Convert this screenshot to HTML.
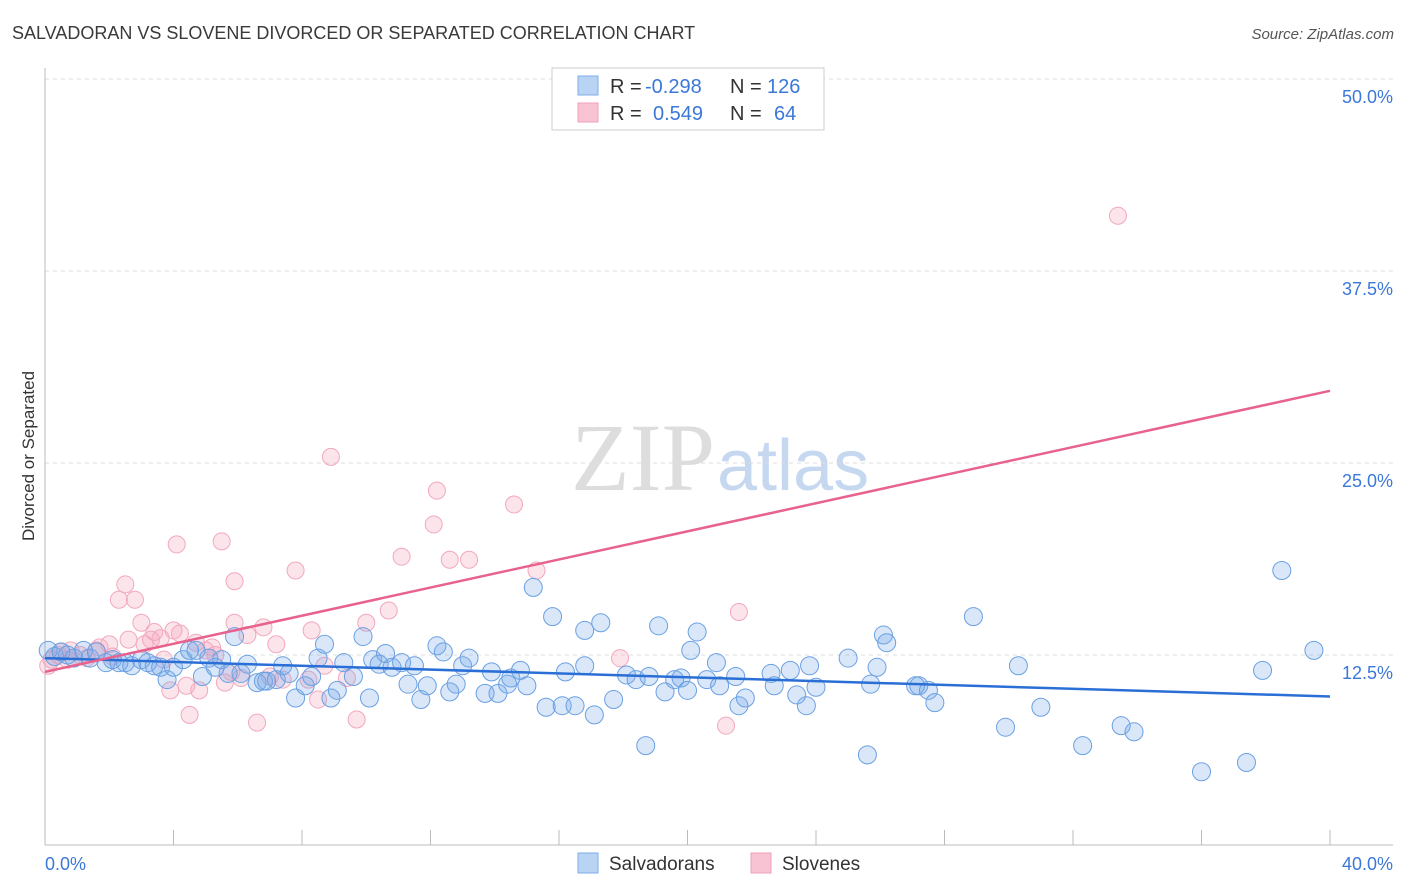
<!DOCTYPE html>
<html><head><meta charset="utf-8"><style>
body{margin:0;background:#fff;font-family:"Liberation Sans",sans-serif;}
#c{position:relative;width:1406px;height:892px;overflow:hidden}
</style></head><body>
<div id="c">
<svg id="svg" width="1406" height="892" xmlns="http://www.w3.org/2000/svg">
<text x="12" y="39" font-size="18" fill="#3a3a3a">SALVADORAN VS SLOVENE DIVORCED OR SEPARATED CORRELATION CHART</text>
<text x="1394" y="39" font-size="15" fill="#555" font-style="italic" text-anchor="end">Source: ZipAtlas.com</text>
<text x="34" y="456" font-size="17" fill="#333" text-anchor="middle" transform="rotate(-90 34 456)">Divorced or Separated</text>
<text x="715" y="490" font-size="96" fill="#ddd" text-anchor="end" font-family="Liberation Serif,serif">ZIP</text>
<text x="717" y="490" font-size="72" fill="#c5d8f0">atlas</text>
<g id="grid"></g><g id="pts"></g><g id="lines"></g>
<g>
<rect x="552" y="68" width="272" height="62" fill="#fff" stroke="#ccc"/>
<rect x="578" y="76" width="20" height="19" fill="#b8d3f3" stroke="#7eaee8"/>
<rect x="578" y="103" width="20" height="19" fill="#f8c4d4" stroke="#f0a0b8"/>
<text y="93" font-size="20" fill="#333"><tspan x="610">R =</tspan><tspan x="645" fill="#3b78d8">-0.298</tspan><tspan x="730">N =</tspan><tspan x="767" fill="#3b78d8">126</tspan></text>
<text y="120" font-size="20" fill="#333"><tspan x="610">R =</tspan><tspan x="653" fill="#3b78d8">0.549</tspan><tspan x="730">N =</tspan><tspan x="774" fill="#3b78d8">64</tspan></text>
</g>
<g>
<rect x="578" y="853" width="20" height="20" fill="#b8d3f3" stroke="#7eaee8"/>
<text x="609" y="870" font-size="19" fill="#333">Salvadorans</text>
<rect x="751" y="853" width="20" height="20" fill="#f8c4d4" stroke="#f0a0b8"/>
<text x="782" y="870" font-size="19" fill="#333">Slovenes</text>
</g>
</svg>
</div>
<script>
const xTicks=[0,4,8,12,16,20,24,28,32,36,40];
const yTicks=[12.5,25,37.5,50];
const yTickLabels=["12.5%","25.0%","37.5%","50.0%"];
const blueX=[0.1,0.3,0.5,0.7,0.9,1.2,1.4,1.6,1.9,2.1,2.3,2.5,2.7,3.0,3.2,3.4,3.6,3.8,4.0,4.3,4.5,4.7,4.9,5.1,5.3,5.5,5.7,5.9,6.1,6.3,6.6,6.8,6.9,7.2,7.4,7.6,7.8,8.1,8.3,8.5,8.7,8.9,9.1,9.3,9.6,9.9,10.1,10.2,10.4,10.6,10.8,11.1,11.3,11.5,11.7,11.9,12.2,12.4,12.6,12.8,13.0,13.2,13.7,13.9,14.1,14.4,14.5,14.8,15.0,15.2,15.6,15.8,16.1,16.2,16.5,16.8,16.8,17.1,17.3,17.7,18.1,18.4,18.7,18.8,19.1,19.3,19.6,19.8,20.0,20.1,20.3,20.6,20.9,21.0,21.5,21.6,21.8,22.6,22.7,23.2,23.4,23.7,23.8,24.0,25.0,25.6,25.7,25.9,26.1,26.2,27.1,27.2,27.5,27.7,28.9,29.9,30.3,31.0,32.3,33.5,33.9,36.0,37.4,37.9,38.5,39.5];
const blueY=[12.8,12.4,12.7,12.5,12.3,12.8,12.3,12.7,12.0,12.2,12.0,12.0,11.8,12.2,12.0,11.8,11.7,10.9,11.7,12.2,12.8,12.8,11.1,12.3,11.7,12.2,11.3,13.7,11.3,11.9,10.7,10.8,10.8,10.9,11.8,11.3,9.7,10.5,11.1,12.3,13.2,9.7,10.2,12.0,11.1,13.7,9.7,12.2,11.9,12.6,11.7,12.0,10.6,11.8,9.6,10.5,13.1,12.7,10.1,10.6,11.8,12.3,10.0,11.4,10.0,10.6,11.0,11.5,10.5,16.9,9.1,15.0,9.2,11.4,9.2,14.1,11.8,8.6,14.6,9.6,11.2,10.9,6.6,11.1,14.4,10.1,10.9,11.0,10.2,12.8,14.0,10.9,12.0,10.5,11.1,9.2,9.7,11.3,10.5,11.5,9.9,9.2,11.8,10.4,12.3,6.0,10.6,11.7,13.8,13.3,10.5,10.5,10.2,9.4,15.0,7.8,11.8,9.1,6.6,7.9,7.5,4.9,5.5,11.5,18.0,12.8];
const pinkX=[0.1,0.2,0.4,0.5,0.7,0.8,1.1,1.3,1.6,1.7,2.0,2.1,2.3,2.5,2.6,2.8,3.0,3.1,3.3,3.4,3.6,3.7,3.9,4.0,4.1,4.2,4.4,4.5,4.7,4.8,5.0,5.2,5.3,5.5,5.6,5.8,5.9,5.9,6.1,6.3,6.6,6.8,7.0,7.2,7.4,7.8,8.2,8.3,8.5,8.7,8.9,9.4,9.7,10.0,10.7,11.1,12.1,12.2,12.6,13.2,14.6,15.3,17.9,21.2,21.6,33.4];
const pinkY=[11.8,12.2,12.5,12.7,12.2,12.8,12.5,12.3,12.8,13.0,13.2,12.4,16.1,17.1,13.5,16.1,14.6,13.2,13.5,14.0,13.6,12.2,10.2,14.1,19.7,13.9,10.5,8.6,13.3,10.2,12.8,13.0,12.5,19.9,10.7,11.4,17.3,14.6,11.0,13.8,8.1,14.3,11.1,13.2,10.9,18.0,10.9,14.1,9.6,11.8,25.4,11.0,8.3,14.6,15.4,18.9,21.0,23.2,18.7,18.7,22.3,18.0,12.3,7.9,15.3,41.1];
const blueTrend=[12.3,9.8];
const pinkTrend=[11.4,29.7];
const NS="http://www.w3.org/2000/svg";
const X0=45,X1=1330,Y0=847,PXY=15.36;
function sx(v){return X0+(X1-X0)*v/40;}
function sy(v){return Y0-v*PXY;}
function mk(t,a,p){const e=document.createElementNS(NS,t);for(const k in a)e.setAttribute(k,a[k]);p.appendChild(e);return e;}
const grid=document.getElementById('grid');
yTicks.forEach((t,i)=>{
  const l=mk('line',{x1:45,x2:1393,y1:sy(t),y2:sy(t),stroke:'#ddd','stroke-dasharray':'4,4'},grid);
  
  
  const tx=mk('text',{x:1393,y:sy(t)+24,'font-size':18,fill:'#3b78d8','text-anchor':'end'},grid);
  tx.textContent=yTickLabels[i];
  
  
});
const ya=mk('line',{x1:45,x2:45,y1:68,y2:845,stroke:'#bbb'},grid);


const xa=mk('line',{x1:45,x2:1393,y1:845,y2:845,stroke:'#bbb'},grid);


xTicks.forEach(t=>{
  const l=mk('line',{x1:sx(t),x2:sx(t),y1:830,y2:845,stroke:'#bbb'},grid);
  
  
});
[[0,'0.0%','start',45],[40,'40.0%','end',1393]].forEach(d=>{
  const tx=mk('text',{x:d[3],y:870,'font-size':18,fill:'#3b78d8','text-anchor':d[2]},grid);
  tx.textContent=d[1];
  
  
});
const pts=document.getElementById('pts');
pinkX.forEach((x,i)=>{
  const c=mk('circle',{cx:sx(x),cy:sy(pinkY[i]),r:8.5,fill:'rgba(245,165,190,0.3)',stroke:'#f2a8be','stroke-width':1},pts);
  
  
});
blueX.forEach((x,i)=>{
  const c=mk('circle',{cx:sx(x),cy:sy(blueY[i]),r:9,fill:'rgba(120,170,235,0.28)',stroke:'#6aa0e2','stroke-width':1},pts);
  
  
});
const lines=document.getElementById('lines');
const bl=mk('line',{x1:sx(0),y1:sy(blueTrend[0]),x2:sx(40),y2:sy(blueTrend[1]),stroke:'#2a6fd6','stroke-width':2.5},lines);


const pl=mk('line',{x1:sx(0),y1:sy(pinkTrend[0]),x2:sx(40),y2:sy(pinkTrend[1]),stroke:'#e8628e','stroke-width':2.5},lines);


</script>
</body></html>
